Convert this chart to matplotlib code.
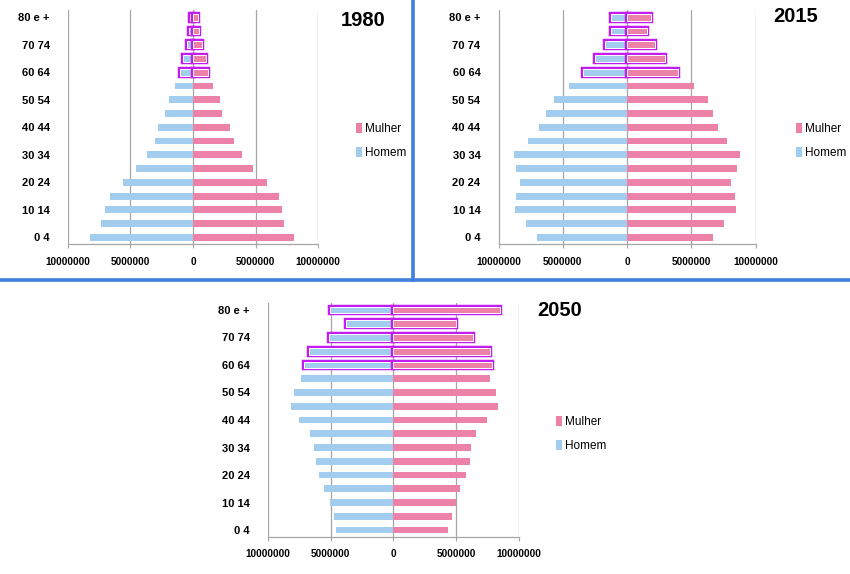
import matplotlib
matplotlib.use("Agg")
import matplotlib.pyplot as plt
import matplotlib.patheffects as pe
from matplotlib.patches import Patch
from matplotlib.ticker import FuncFormatter, FixedLocator

# ---------------- data ----------------
age_groups = ["0 4", "5 9", "10 14", "15 19", "20 24", "25 29", "30 34", "35 39",
              "40 44", "45 49", "50 54", "55 59", "60 64", "65 69", "70 74",
              "75 79", "80 e +"]

homem_1980 = [8200000, 7350000, 7060000, 6600000, 5560000, 4580000, 3700000, 3040000,
              2780000, 2250000, 1930000, 1460000, 1000000, 800000, 500000, 300000, 200000]
mulher_1980 = [8100000, 7280000, 7140000, 6850000, 5870000, 4800000, 3900000, 3250000,
               2930000, 2350000, 2140000, 1600000, 1160000, 1000000, 700000, 450000, 370000]

homem_2015 = [7000000, 7850000, 8740000, 8640000, 8300000, 8670000, 8800000, 7670000,
              6860000, 6300000, 5680000, 4550000, 3400000, 2460000, 1700000, 1230000, 1280000]
mulher_2015 = [6700000, 7570000, 8460000, 8400000, 8090000, 8560000, 8820000, 7800000,
               7070000, 6730000, 6300000, 5240000, 4000000, 2960000, 2150000, 1570000, 1830000]

homem_2050 = [4560000, 4720000, 5040000, 5490000, 5920000, 6180000, 6290000, 6630000,
              7500000, 8170000, 7900000, 7350000, 7130000, 6740000, 5150000, 3740000, 5070000]
mulher_2050 = [4380000, 4700000, 5010000, 5300000, 5810000, 6100000, 6200000, 6600000,
               7480000, 8300000, 8140000, 7720000, 7820000, 7670000, 6340000, 5010000, 8490000]

years = ["1980", "2015", "2050"]
series_labels = ["Mulher", "Homem"]
x_ticks = [-10000000, -5000000, 0, 5000000, 10000000]
highlight_from = "60 64"   # groups from here up are outlined

# ---------------- style ----------------
BLUE = "#A2CDEE"
PINK = "#EC82A8"
PURPLE = "#C21CF0"
SEP = "#3F7FE0"
GRID = "#A6A6A6"
FONT = ["Liberation Sans", "DejaVu Sans"]

W, H = 850, 574
fig = plt.figure(figsize=(W / 100, H / 100), dpi=100)


def px_axes(left, right, top, bottom):
    return [left / W, 1 - bottom / H, (right - left) / W, (bottom - top) / H]


def draw_panel(rect, homem, mulher, year, title_xy, legend_xy):
    ax = fig.add_axes(rect)
    y = list(range(len(age_groups)))
    hi = age_groups.index(highlight_from)
    effects = [pe.Stroke(linewidth=3.2, foreground=PURPLE), pe.Normal()]
    bh = ax.barh(y, [-v for v in homem], height=0.5, color=BLUE, zorder=2)
    bm = ax.barh(y, mulher, height=0.5, color=PINK, zorder=2)
    for bars in (bh, bm):
        for i, b in enumerate(bars):
            if i >= hi:
                b.set_edgecolor("white")
                b.set_linewidth(0.7)
                b.set_path_effects(effects)
                b.set_zorder(3)
    ax.set_xlim(x_ticks[0], x_ticks[-1])
    ax.set_ylim(-0.5, len(age_groups) - 0.5)
    ax.xaxis.set_major_locator(FixedLocator(x_ticks))
    ax.xaxis.set_major_formatter(FuncFormatter(lambda v, p: f"{abs(int(v))}"))
    ax.set_yticks(y[::2])
    ax.set_yticklabels(age_groups[::2])
    ax.grid(axis="x", color=GRID, linewidth=0.9, zorder=1)
    ax.set_axisbelow(True)
    for s in ("top", "right", "left"):
        ax.spines[s].set_visible(False)
    ax.spines["bottom"].set_color(GRID)
    ax.spines["bottom"].set_linewidth(0.9)
    ax.tick_params(axis="x", length=3, color=GRID, pad=6)
    ax.tick_params(axis="y", length=0, pad=13)
    for lab in ax.get_xticklabels():
        lab.set_family(FONT)
        lab.set_fontweight("bold")
        lab.set_fontsize(7.2)
    for lab in ax.get_yticklabels():
        lab.set_family(FONT)
        lab.set_fontweight("bold")
        lab.set_fontsize(8)
    fig.text(title_xy[0] / W, 1 - title_xy[1] / H, year, ha="center", va="center",
             fontsize=14.5, fontweight="bold", family=FONT)
    handles = [Patch(facecolor=PINK, edgecolor="none"), Patch(facecolor=BLUE, edgecolor="none")]
    ax.legend(handles, series_labels, loc="center left",
              bbox_to_anchor=(legend_xy[0] / W, 1 - legend_xy[1] / H),
              bbox_transform=fig.transFigure, frameon=False,
              handlelength=0.5, handleheight=0.9, handletextpad=0.25,
              labelspacing=1.05, borderpad=0, borderaxespad=0,
              prop={"family": FONT, "size": 8.5})
    return ax


draw_panel(px_axes(67.7, 318.3, 10.4, 244.2), homem_1980, mulher_1980, years[0],
           (363, 21), (356, 141))
draw_panel(px_axes(498.5, 755.5, 10.4, 244.2), homem_2015, mulher_2015, years[1],
           (796, 17), (796, 141))
draw_panel(px_axes(267.7, 519.0, 303.1, 536.9), homem_2050, mulher_2050, years[2],
           (560, 310), (556, 434))

# separator lines
fig.add_artist(plt.Line2D([413 / W, 413 / W], [1, 1 - 280 / H], color=SEP,
                          linewidth=2.6, transform=fig.transFigure))
fig.add_artist(plt.Line2D([0, 1], [1 - 280 / H, 1 - 280 / H], color=SEP,
                          linewidth=2.6, transform=fig.transFigure))

fig.savefig("out.png", dpi=100)
